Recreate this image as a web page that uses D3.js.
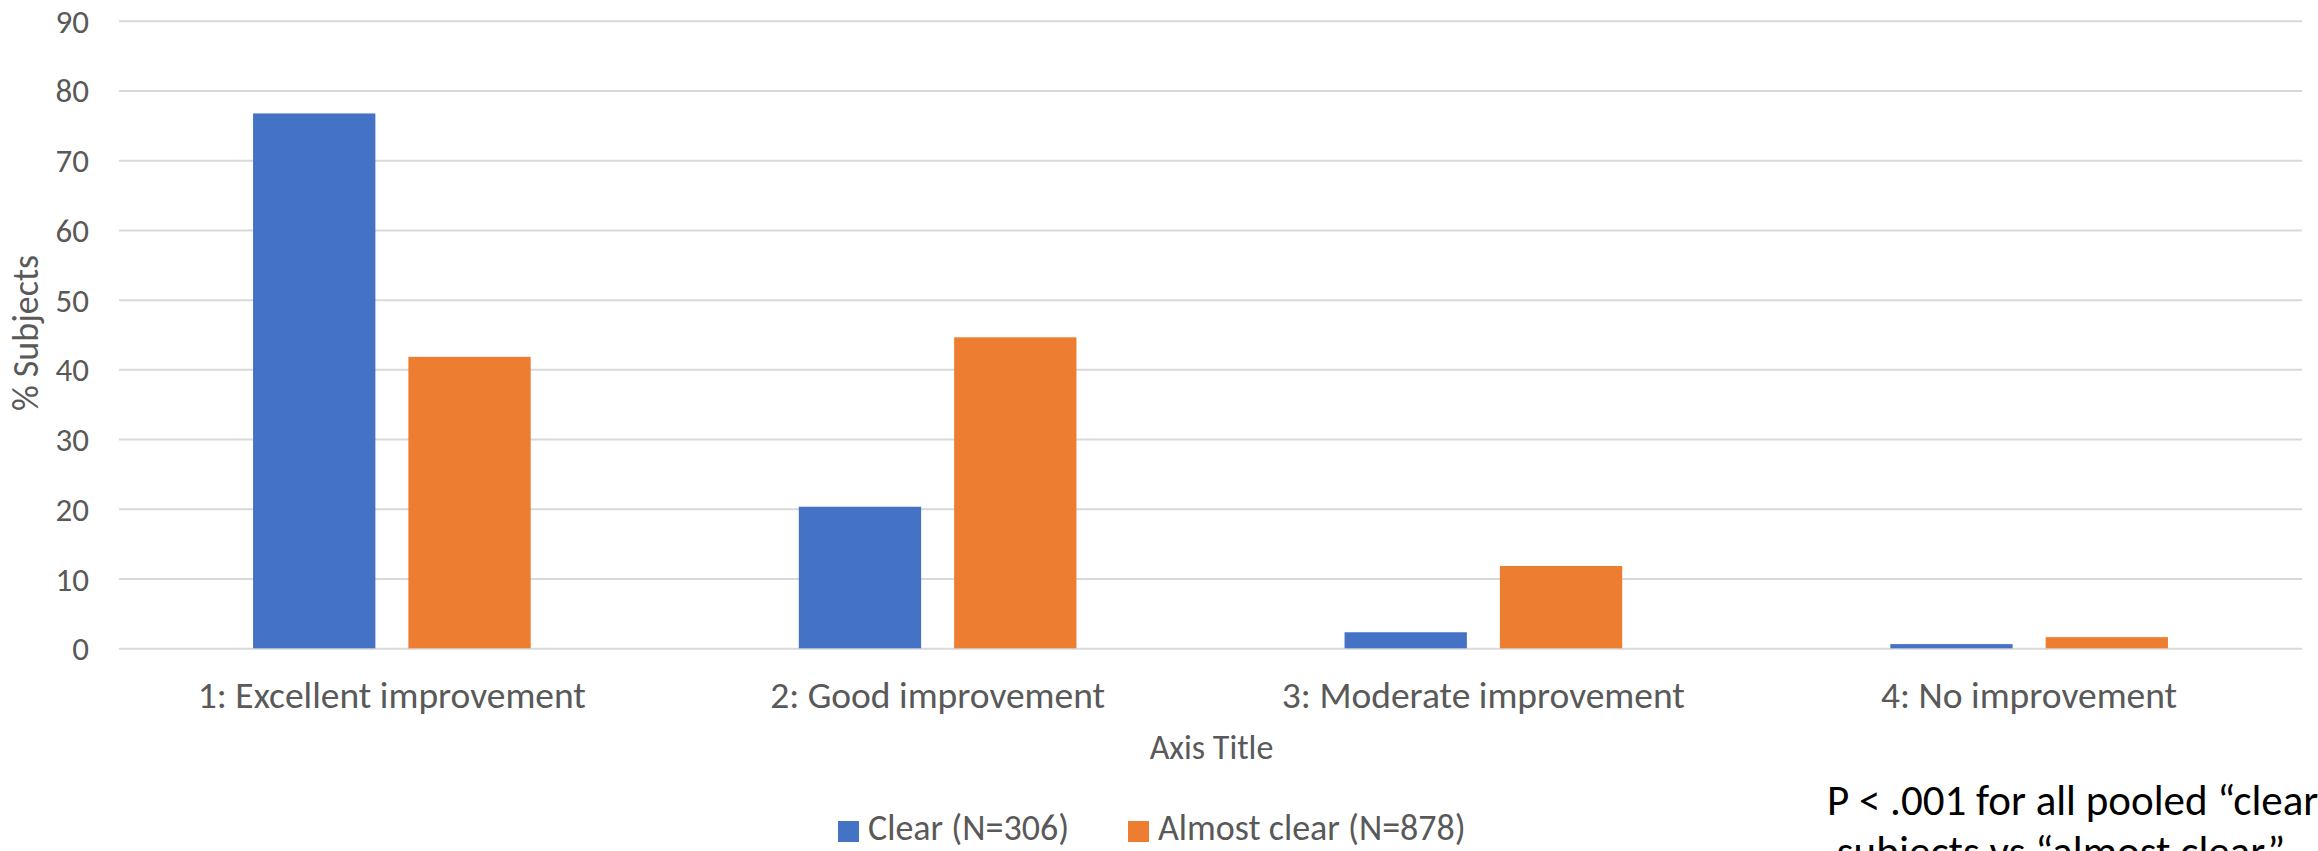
<!DOCTYPE html>
<html>
<head>
<meta charset="utf-8">
<script src="https://cdn.jsdelivr.net/npm/d3@7"></script>
<style>
  html, body { margin: 0; padding: 0; background: #fff; overflow: hidden; }
  svg { display: block; }
  text { font-family: Carlito, Calibri, Lato, "Open Sans", sans-serif; }
</style>
</head>
<body>
<svg id="chart" width="2318" height="851"></svg>
<script>
// Response categories along the x axis
const categories = ["1: Excellent improvement", "2: Good improvement", "3: Moderate improvement", "4: No improvement"];
// Series names (legend) and their values, % of subjects
const seriesNames = ["Clear (N=306)", "Almost clear (N=878)"];
const clearValues = [76.7, 20.3, 2.3, 0.6];
const almostClearValues = [41.8, 44.6, 11.8, 1.6];
const yTicks = [0, 10, 20, 30, 40, 50, 60, 70, 80, 90];
const seriesColors = ["#4472C4", "#ED7D31"];
const yAxisLabel = "% Subjects";
const xAxisLabel = "Axis Title";
const noteLines = ["P < .001 for all pooled \u201Cclear\u201D", " subjects vs \u201Calmost clear\u201D"];

const svg = d3.select("#chart");
const plot = { left: 119, right: 2302, top: 20.7, bottom: 648.3 };
const textGrey = "#595959";

const x = d3.scaleBand().domain(categories).range([plot.left, plot.right]).paddingInner(0).paddingOuter(0);
const xSub = d3.scaleBand().domain(seriesNames).range([0, x.bandwidth()]).paddingInner(0.2125).paddingOuter(0.863);
const y = d3.scaleLinear().domain([0, 90]).range([plot.bottom, plot.top]);

// Horizontal gridlines with tick labels
const yAxis = d3.axisLeft(y).tickValues(yTicks).tickSize(-(plot.right - plot.left)).tickPadding(30);
const gy = svg.append("g").attr("transform", `translate(${plot.left},0)`).call(yAxis);
gy.select(".domain").remove();
gy.selectAll(".tick line").attr("stroke", "#D9D9D9").attr("stroke-width", 2);
gy.selectAll(".tick text")
  .attr("fill", textGrey)
  .style("font-size", "33px")
  .attr("dy", "0.35em");

// Bars
const table = categories.map((c, i) => ({ category: c, values: [clearValues[i], almostClearValues[i]] }));
const groups = svg.append("g").selectAll("g")
  .data(table).join("g")
  .attr("transform", d => `translate(${x(d.category)},0)`);
groups.selectAll("rect")
  .data(d => d.values.map((v, j) => ({ name: seriesNames[j], value: v, color: seriesColors[j] })))
  .join("rect")
  .attr("x", d => xSub(d.name))
  .attr("width", xSub.bandwidth())
  .attr("y", d => y(d.value))
  .attr("height", d => y(0) - y(d.value))
  .attr("fill", d => d.color);

// Category labels
const gx = svg.append("g").attr("transform", `translate(0,${plot.bottom})`)
  .call(d3.axisBottom(x).tickSize(0).tickPadding(0));
gx.select(".domain").remove();
gx.selectAll(".tick text")
  .attr("fill", textGrey)
  .style("font-size", "37.5px")
  .attr("y", 60)
  .attr("dy", 0);

// Axis titles
svg.append("text")
  .attr("x", (plot.left + plot.right) / 2 + 1)
  .attr("y", 759)
  .attr("text-anchor", "middle")
  .attr("fill", textGrey)
  .style("font-size", "34px")
  .text(xAxisLabel);

svg.append("text")
  .attr("transform", "translate(38,333) rotate(-90)")
  .attr("text-anchor", "middle")
  .attr("fill", textGrey)
  .style("font-size", "36px")
  .text(yAxisLabel);

// Legend
const legendOffsets = [0, 290];
const legend = svg.append("g").attr("transform", "translate(838,840)");
seriesNames.forEach((name, i) => {
  const item = legend.append("g").attr("transform", `translate(${legendOffsets[i]},0)`);
  item.append("rect").attr("x", 0).attr("y", -19).attr("width", 21).attr("height", 21).attr("fill", seriesColors[i]);
  item.append("text").attr("x", 30).attr("y", 0)
    .attr("fill", textGrey).style("font-size", "36px").text(name);
});

// Significance note
const note = svg.append("text")
  .attr("fill", "#000")
  .style("font-size", "43px");
note.append("tspan").attr("x", 1827).attr("y", 815).text(noteLines[0]);
note.append("tspan").attr("x", 1827).attr("y", 866).attr("xml:space", "preserve").style("white-space", "pre").text(noteLines[1]);
</script>
</body>
</html>
